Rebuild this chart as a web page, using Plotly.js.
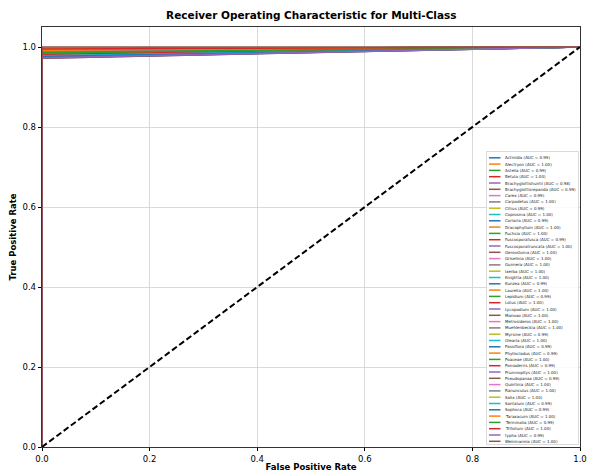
<!DOCTYPE html>
<html><head><meta charset="utf-8">
<script src="https://cdn.plot.ly/plotly-3.0.1.min.js"></script>
<style>html,body{margin:0;padding:0;background:#fff}#c{width:593px;height:475px}</style>
</head><body><div id="c"></div>
<script>
const classes = ["Actinidia","Alectryon","Astelia","Betula","Brachyglottishuntii","Brachyglottisrepanda","Carex","Carpodetus","Citrus","Coprosma","Coriaria","Dracophyllum","Fuchsia","Fuscosporafusca","Fuscosporatruncata","Geniostoma","Griselinia","Gunnera","Ixerba","Knightia","Kunzea","Laurelia","Lepidium","Lotus","Lycopodium","Manoao","Metrosideros","Muehlenbeckia","Myrsine","Olearia","Passiflora","Phyllocladus","Poaceae","Pomaderris","Prumnopitys","Pseudopanax","Quintinia","Ranunculus","Salix","Santalum","Sophora","Taraxacum","Terminalia","Trifolium","typha","Weinmannia"];
const aucs = ["0.99","1.00","0.99","1.00","0.98","0.99","0.99","1.00","0.99","1.00","0.99","1.00","1.00","0.99","1.00","1.00","1.00","1.00","1.00","1.00","0.99","1.00","0.99","1.00","1.00","1.00","1.00","1.00","0.99","1.00","0.99","0.99","1.00","0.99","1.00","0.99","1.00","1.00","1.00","0.99","0.99","1.00","0.99","1.00","0.99","1.00"];
// TPR at FPR = 0
const tprStart = [0.976,0.99,0.982,0.995,0.972,0.978,0.975,0.992,0.984,0.99,0.973,0.991,0.993,0.98,0.99,0.995,0.992,0.993,0.99,0.995,0.975,0.99,0.985,0.996,0.99,0.995,0.993,0.995,0.98,0.992,0.974,0.978,0.993,0.981,0.991,0.972,0.994,0.995,0.995,0.978,0.976,0.992,0.986,0.995,0.973,1.0];
const fprPts = [0, 0, 1];
const diagX = [0, 1], diagY = [0, 1];
const xTicks = [0, 0.2, 0.4, 0.6, 0.8, 1.0];
const yTicks = [0, 0.2, 0.4, 0.6, 0.8, 1.0];

const tab10 = ['#1f77b4','#ff7f0e','#2ca02c','#d62728','#9467bd','#8c564b','#e377c2','#7f7f7f','#bcbd22','#17becf'];
const traces = classes.map((c,i)=>({
  x: fprPts, y: [0, tprStart[i], 1], mode:'lines', type:'scatter',
  line:{color:tab10[i%10], width:1.5}, name:c+' (AUC = '+aucs[i]+')', showlegend:false, hoverinfo:'skip'
}));
traces.push({x:diagX,y:diagY,mode:'lines',line:{color:'#000',width:2,dash:'6px,3px'},showlegend:false,hoverinfo:'skip'});

// legend drawn as shapes + annotations in data coords
const L=42, R=580, B=447, PX=400; // pixel geometry
const dx = p => (p-L)/(R-L), dy = p => (B-p)/PX;
const shapes=[{type:'rect',xref:'x',yref:'y',x0:dx(486.5),x1:dx(578.5),y0:dy(444.5),y1:dy(151.5),
  line:{color:'#d0d0d0',width:0.8},fillcolor:'rgba(255,255,255,0.85)',layer:'above'}];
const annotations=[];
const step=(441.3-157.8)/45;
classes.forEach((c,i)=>{
  const py=157.8+i*step;
  shapes.push({type:'line',xref:'x',yref:'y',x0:dx(489),x1:dx(500.5),y0:dy(py),y1:dy(py),line:{color:tab10[i%10],width:1.5},layer:'above'});
  annotations.push({xref:'x',yref:'y',x:dx(503),y:dy(py),text:c+' (AUC = '+aucs[i]+')',showarrow:false,xanchor:'left',yanchor:'middle',
    font:{family:'DejaVu Sans',size:4.0,color:'#222'}});
});

const layout={
  width:593,height:475,paper_bgcolor:'#fff',plot_bgcolor:'#fff',
  margin:{l:42,r:13,t:27,b:28},
  font:{family:'DejaVu Sans',color:'#000'},
  title:{text:'<b>Receiver Operating Characteristic for Multi-Class</b>',font:{size:10.5,family:'DejaVu Sans'},x:0.525,xanchor:'center',y:0.967,yanchor:'middle'},
  xaxis:{range:[0,1],tickvals:xTicks,ticktext:xTicks.map(v=>v.toFixed(1)),showgrid:true,gridcolor:'#cfcfcf',gridwidth:0.8,
    ticks:'outside',ticklen:3.5,tickcolor:'#000',tickfont:{size:8.5},showline:true,mirror:true,linecolor:'#000',linewidth:0.8,zeroline:false,
    title:{text:'<b>False Positive Rate</b>',font:{size:8.5},standoff:1}},
  yaxis:{range:[0,1.05],tickvals:yTicks,ticktext:yTicks.map(v=>v.toFixed(1)),showgrid:true,gridcolor:'#cfcfcf',gridwidth:0.8,
    ticks:'outside',ticklen:3.5,tickcolor:'#000',tickfont:{size:8.5},showline:true,mirror:true,linecolor:'#000',linewidth:0.8,zeroline:false,
    title:{text:'<b>True Positive Rate</b>',font:{size:8.5},standoff:4}},
  shapes, annotations, showlegend:false
};
Plotly.newPlot('c',traces,layout,{staticPlot:true,displayModeBar:false});
</script></body></html>
